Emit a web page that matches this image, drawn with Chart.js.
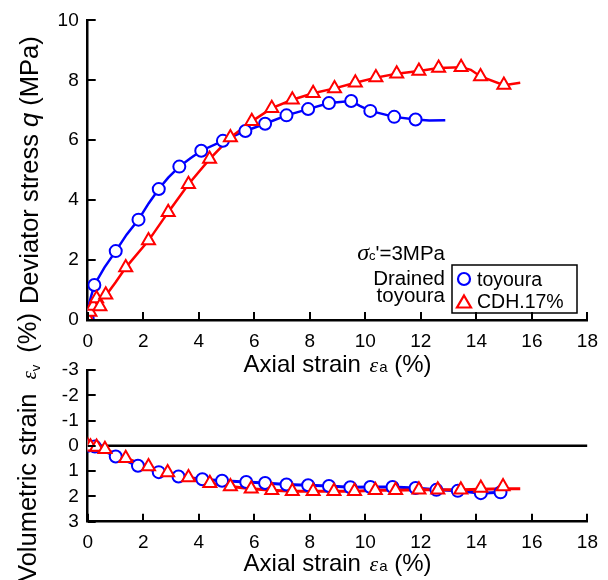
<!DOCTYPE html>
<html><head><meta charset="utf-8">
<script src="https://cdn.jsdelivr.net/npm/chart.js@4/dist/chart.umd.min.js"></script>
<style>
html,body{margin:0;padding:0;background:#fff;}
#wrap{position:relative;width:608px;height:580px;overflow:hidden;background:#fff;}
#c1{position:absolute;left:0;top:0;width:608px;height:390px;}
#c2{position:absolute;left:0;top:290px;width:608px;height:290px;}
</style></head><body>
<div id="wrap"><canvas id="c1" width="608" height="390"></canvas><canvas id="c2" width="608" height="290"></canvas></div>
<script>
// ---------------- data ----------------
const strainTicks = [0, 2, 4, 6, 8, 10, 12, 14, 16, 18];
const qTicks = [0, 2, 4, 6, 8, 10];
const evTicks = [-3, -2, -1, 0, 1, 2, 3];

// Deviator stress q (MPa) vs axial strain (%)
const toyouraQLine = [[0,0],[0.05,0.55],[0.24,1.17],[0.6,1.75],[1.01,2.3],[1.4,2.85],[1.83,3.35],[2.2,3.9],[2.56,4.37],[2.9,4.75],[3.3,5.12],[3.7,5.4],[4.09,5.65],[4.87,5.98],[5.68,6.31],[6.39,6.55],[7.16,6.83],[7.94,7.04],[8.69,7.24],[9.49,7.31],[9.8,7.15],[10.18,6.98],[11.04,6.78],[11.81,6.69],[12.3,6.66],[12.88,6.67]];
const toyouraQMarks = [[0,0.03],[0.24,1.17],[1.01,2.3],[1.83,3.35],[2.56,4.37],[3.3,5.12],[4.09,5.65],[4.87,5.98],[5.68,6.31],[6.39,6.55],[7.16,6.83],[7.94,7.04],[8.69,7.24],[9.49,7.31],[10.18,6.98],[11.04,6.78],[11.81,6.69]];
const cdhQLine = [[0,0],[0.1,0.3],[0.3,0.62],[0.68,0.85],[1.0,1.25],[1.37,1.75],[2.19,2.65],[2.9,3.6],[3.63,4.53],[4.39,5.37],[5.14,6.09],[5.91,6.63],[6.63,7.07],[7.37,7.35],[8.12,7.57],[8.89,7.73],[9.64,7.92],[10.38,8.09],[11.13,8.22],[11.93,8.31],[12.64,8.41],[13.45,8.44],[13.8,8.35],[14.15,8.13],[14.99,7.84],[15.58,7.92]];
const cdhQMarks = [[0,0.05],[0.08,0.27],[0.2,0.47],[0.32,0.72],[0.44,0.45],[0.65,0.84],[1.37,1.75],[2.19,2.65],[2.9,3.6],[3.63,4.53],[4.39,5.37],[5.14,6.09],[5.91,6.63],[6.63,7.07],[7.37,7.35],[8.12,7.57],[8.89,7.73],[9.64,7.92],[10.38,8.09],[11.13,8.22],[11.93,8.31],[12.64,8.41],[13.45,8.44],[14.15,8.13],[14.99,7.84]];

// Volumetric strain (%) vs axial strain (%)
const toyouraEvLine = [[0,0],[0.26,0.03],[1.01,0.42],[1.81,0.79],[2.56,1.04],[3.27,1.21],[4.13,1.32],[4.84,1.38],[5.71,1.43],[6.39,1.47],[7.16,1.53],[7.94,1.56],[8.69,1.59],[9.46,1.64],[10.18,1.63],[10.98,1.63],[11.81,1.67],[12.56,1.74],[13.33,1.78],[14.16,1.87],[14.87,1.84]];
const toyouraEvMarks = [[0,0],[0.26,0.03],[1.01,0.42],[1.81,0.79],[2.56,1.04],[3.27,1.21],[4.13,1.32],[4.84,1.38],[5.71,1.43],[6.39,1.47],[7.16,1.53],[7.94,1.56],[8.69,1.59],[9.46,1.64],[10.18,1.63],[10.98,1.63],[11.81,1.67],[12.56,1.74],[13.33,1.78],[14.16,1.87],[14.87,1.84]];
const cdhEvLine = [[0,0],[0.1,0.04],[0.32,0.05],[0.62,0.13],[1.37,0.49],[2.19,0.82],[2.88,1.05],[3.63,1.25],[4.4,1.48],[5.14,1.61],[5.89,1.7],[6.63,1.76],[7.37,1.8],[8.12,1.8],[8.87,1.8],[9.61,1.8],[10.36,1.76],[11.09,1.76],[11.93,1.74],[12.61,1.74],[13.44,1.74],[14.16,1.72],[14.96,1.7],[15.58,1.7]];
const cdhEvMarks = [[0,0],[0.1,0.04],[0.32,0.05],[0.62,0.13],[1.37,0.49],[2.19,0.82],[2.88,1.05],[3.63,1.25],[4.4,1.48],[5.14,1.61],[5.89,1.7],[6.63,1.76],[7.37,1.8],[8.12,1.8],[8.87,1.8],[9.61,1.8],[10.36,1.76],[11.09,1.76],[11.93,1.74],[12.61,1.74],[13.44,1.74],[14.16,1.67],[14.96,1.61]];
const zeroLine = [[0,0],[18,0]];

const seriesNames = ['toyoura', 'CDH.17%'];
const annotationLines = ['Drained', 'toyoura'];

// ---------------- helpers ----------------
const SANS = "'Liberation Sans', Arial, sans-serif";
const SERIF = "'Liberation Serif', 'Times New Roman', serif";
const BLUE = '#0000ff', RED = '#ff0000';
const pts = a => a.map(p => ({x: p[0], y: p[1]}));

function drawRich(ctx, runs, x, y, align, rot) {
  ctx.save();
  ctx.fillStyle = '#000';
  ctx.textBaseline = 'alphabetic';
  ctx.textAlign = 'left';
  const widths = runs.map(r => { if (r.gap != null) return r.gap; ctx.font = r.f; return ctx.measureText(r.t).width; });
  const total = widths.reduce((a, b) => a + b, 0);
  ctx.translate(x, y);
  if (rot) ctx.rotate(-Math.PI / 2);
  let cx = align === 'center' ? -total / 2 : (align === 'right' ? -total : 0);
  runs.forEach((r, i) => {
    if (r.gap == null) { ctx.font = r.f; ctx.fillText(r.t, cx, r.dy || 0); }
    cx += widths[i];
  });
  ctx.restore();
}

function innerTicks(chart) {
  const ctx = chart.ctx, xs = chart.scales.x, ys = chart.scales.y;
  const a = chart.chartArea;
  ctx.save();
  ctx.strokeStyle = '#000';
  ctx.lineWidth = 2;
  xs.ticks.forEach(t => {
    const px = Math.round(xs.getPixelForValue(t.value));
    ctx.beginPath(); ctx.moveTo(px, a.bottom); ctx.lineTo(px, a.bottom - 8); ctx.stroke();
  });
  ys.ticks.forEach(t => {
    const py = Math.round(ys.getPixelForValue(t.value));
    ctx.beginPath(); ctx.moveTo(a.left, py); ctx.lineTo(a.left + 8, py); ctx.stroke();
  });
  ctx.restore();
}

const axialRuns = [
  {t: 'Axial strain ', f: '24px ' + SANS},
  {gap: 2},
  {t: 'ε', f: 'italic 22px ' + SERIF},
  {gap: 1},
  {t: 'a', f: '15px ' + SANS},
  {t: ' (%)', f: '24px ' + SANS}
];

function lineDs(data, color, w) {
  return {data: pts(data), showLine: true, borderColor: color, borderWidth: w, pointRadius: 0, fill: false, tension: 0, order: 2};
}
function markDs(label, data, color, style, r) {
  return {label: label, data: pts(data), showLine: false, pointStyle: style, pointRadius: r, pointBorderWidth: 2,
          pointBorderColor: color, pointBackgroundColor: '#fff', borderColor: color, backgroundColor: '#fff', order: 1};
}

function xScale(height) {
  return {
    type: 'linear', min: 0, max: 18,
    afterBuildTicks: s => { s.ticks = strainTicks.map(v => ({value: v})); },
    afterFit: s => { s.height = height; },
    grid: {display: false, drawTicks: false, tickLength: 0},
    border: {display: true, color: '#000', width: 2.5},
    ticks: {color: '#000', font: {family: SANS, size: 19}, padding: 10, maxRotation: 0, autoSkip: false},
    title: {display: false}
  };
}
function yScale(min, max, tickVals, reverse) {
  return {
    type: 'linear', min: min, max: max, reverse: !!reverse,
    afterBuildTicks: s => { s.ticks = tickVals.map(v => ({value: v})); },
    afterFit: s => { s.width = 87.7; },
    grid: {display: false, drawTicks: false, tickLength: 0},
    border: {display: true, color: '#000', width: 2.5},
    ticks: {color: '#000', font: {family: SANS, size: 19}, padding: 9, autoSkip: false},
    title: {display: false}
  };
}

// ---------------- top chart ----------------
const topPlugin = {
  id: 'topDeco',
  afterDraw(chart) {
    const ctx = chart.ctx, a = chart.chartArea;
    innerTicks(chart);
    drawRich(ctx, [
      {t: 'Deviator stress ', f: '25.5px ' + SANS},
      {t: 'q', f: 'italic 25.5px ' + SANS},
      {t: ' (MPa)', f: '25.5px ' + SANS}
    ], 38, (a.top + a.bottom) / 2, 'center', true);
    drawRich(ctx, axialRuns, (a.left + a.right) / 2, 372, 'center', false);
    drawRich(ctx, [
      {t: 'σ', f: 'italic 24px ' + SERIF},
      {t: 'c', f: '13px ' + SANS},
      {t: "'=3MPa", f: '20.5px ' + SANS}
    ], 445, 260, 'right', false);
    drawRich(ctx, [{t: annotationLines[0], f: '20.5px ' + SANS}], 445, 285, 'right', false);
    drawRich(ctx, [{t: annotationLines[1], f: '20.5px ' + SANS}], 445, 302, 'right', false);
    ctx.save();
    ctx.strokeStyle = '#000'; ctx.lineWidth = 1.5;
    ctx.strokeRect(452, 265, 125, 48);
    ctx.lineWidth = 2.2;
    ctx.strokeStyle = BLUE; ctx.beginPath(); ctx.arc(464, 279, 6, 0, Math.PI * 2); ctx.stroke();
    ctx.strokeStyle = RED; ctx.beginPath();
    ctx.moveTo(464, 295.5); ctx.lineTo(471, 307.5); ctx.lineTo(457, 307.5); ctx.closePath(); ctx.stroke();
    ctx.restore();
    drawRich(ctx, [{t: seriesNames[0], f: '19.5px ' + SANS}], 477, 286, 'left', false);
    drawRich(ctx, [{t: seriesNames[1], f: '19.5px ' + SANS}], 477, 308, 'left', false);
  }
};

new Chart(document.getElementById('c1'), {
  type: 'scatter',
  data: {datasets: [
    markDs(seriesNames[1], cdhQMarks, RED, 'triangle', 7.5),
    markDs(seriesNames[0], toyouraQMarks, BLUE, 'circle', 6),
    lineDs(cdhQLine, RED, 2.5),
    lineDs(toyouraQLine, BLUE, 2.5)
  ]},
  options: {
    responsive: false, animation: false, devicePixelRatio: 1,
    layout: {padding: {left: 0, right: 16.3, top: 16, bottom: 0}},
    plugins: {legend: {display: false}, tooltip: {enabled: false}},
    scales: {x: xScale(70), y: yScale(0, 10, qTicks, false)}
  },
  plugins: [topPlugin]
});

// ---------------- bottom chart ----------------
const botPlugin = {
  id: 'botDeco',
  afterDraw(chart) {
    const ctx = chart.ctx, a = chart.chartArea;
    innerTicks(chart);
    drawRich(ctx, [
      {t: 'Volumetric strain', f: '25.5px ' + SANS},
      {gap: 14},
      {t: 'ε', f: 'italic 21px ' + SERIF},
      {t: 'v', f: '13px ' + SANS, dy: 4},
      {gap: 12},
      {t: '(%)', f: '25.5px ' + SANS}
    ], 36, 447.5 - 290, 'center', true);
    drawRich(ctx, axialRuns, (a.left + a.right) / 2, 571 - 290, 'center', false);
  }
};

new Chart(document.getElementById('c2'), {
  type: 'scatter',
  data: {datasets: [
    markDs(seriesNames[1], cdhEvMarks, RED, 'triangle', 7.5),
    markDs(seriesNames[0], toyouraEvMarks, BLUE, 'circle', 6),
    lineDs(cdhEvLine, RED, 3),
    lineDs(toyouraEvLine, BLUE, 3),
    Object.assign(lineDs(zeroLine, '#000', 2.5), {order: 3})
  ]},
  options: {
    responsive: false, animation: false, devicePixelRatio: 1,
    layout: {padding: {left: 0, right: 16.3, top: 80, bottom: 0}},
    plugins: {legend: {display: false}, tooltip: {enabled: false}},
    scales: {x: xScale(58.3), y: yScale(-3, 3, evTicks, true)}
  },
  plugins: [botPlugin]
});
</script>
</body></html>
